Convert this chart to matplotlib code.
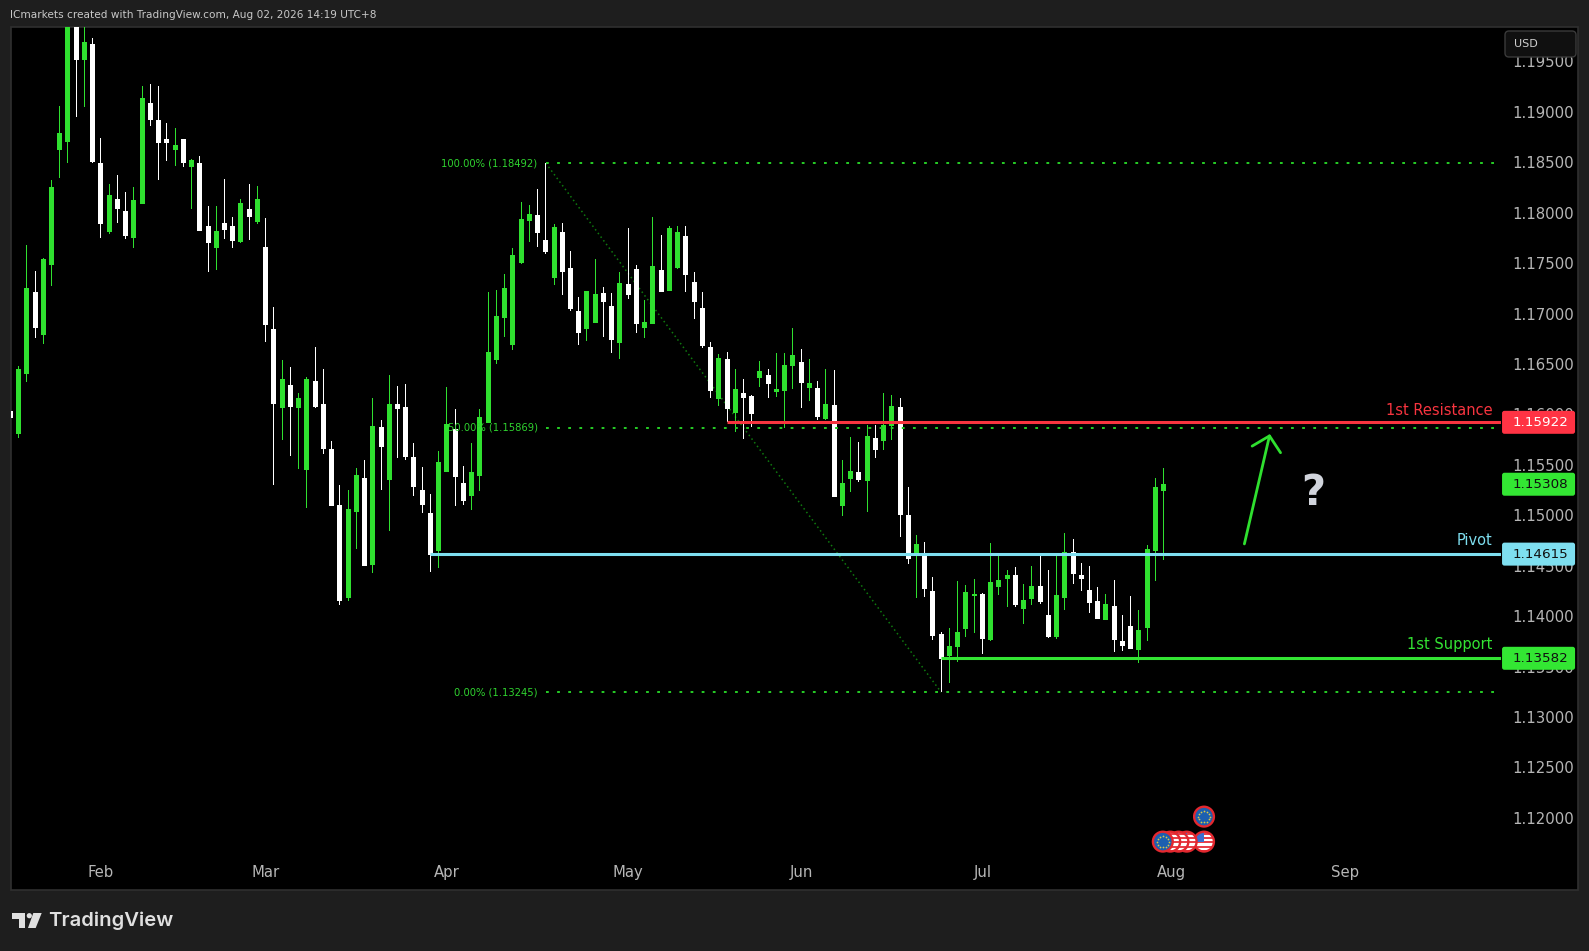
import numpy as np
import matplotlib
matplotlib.use("Agg")
import matplotlib.pyplot as plt
from matplotlib.patches import Circle, FancyBboxPatch, Polygon, Rectangle
from matplotlib.transforms import Affine2D

W, H = 1589, 951

opens = [
    1.16035, 1.15806, 1.16401, 1.17215, 1.16788, 1.17482, 1.18623, 1.18702, 1.19950, 1.19515,
    1.19674, 1.18494, 1.17809, 1.18137, 1.18018, 1.17750, 1.18087, 1.19089, 1.18920, 1.18732,
    1.18623, 1.18732, 1.18454, 1.18494, 1.17869, 1.17651, 1.17899, 1.17869, 1.17710, 1.18038,
    1.17909, 1.17661, 1.16848, 1.16064, 1.16292, 1.16064, 1.15449, 1.16332, 1.16104, 1.15658,
    1.15102, 1.14180, 1.15033, 1.15370, 1.14507, 1.15876, 1.15350, 1.16104, 1.16074, 1.15578,
    1.15251, 1.15023, 1.14646, 1.15430, 1.15856, 1.15321, 1.15192, 1.15390, 1.15916, 1.16540,
    1.16957, 1.16689, 1.17502, 1.17919, 1.17978, 1.17730, 1.17353, 1.17809, 1.17453, 1.17026,
    1.16848, 1.16907, 1.17205, 1.17076, 1.16709, 1.17294, 1.17443, 1.16858, 1.16897, 1.17433,
    1.17224, 1.17453, 1.17770, 1.17314, 1.17056, 1.16669, 1.16154, 1.16550, 1.16015, 1.16213,
    1.16183, 1.16362, 1.16392, 1.16223, 1.16233, 1.16481, 1.16520, 1.16263, 1.16263, 1.15955,
    1.16094, 1.15093, 1.15360, 1.15430, 1.15340, 1.15767, 1.15737, 1.15886, 1.16074, 1.15003,
    1.14617, 1.14617, 1.14250, 1.13823, 1.13605, 1.13694, 1.13873, 1.14200, 1.14220, 1.13764,
    1.14289, 1.14369, 1.14408, 1.14071, 1.14170, 1.14299, 1.14012, 1.13794, 1.14180, 1.14636,
    1.14408, 1.14260, 1.14150, 1.13962, 1.14101, 1.13754, 1.13903, 1.13665, 1.13883, 1.14646,
    1.15241,
]
highs = [
    1.16273, 1.16481, 1.17681, 1.17423, 1.17552, 1.18325, 1.19059, 1.20100, 1.20150, 1.19900,
    1.19733, 1.18742, 1.18285, 1.18375, 1.18206, 1.18256, 1.19257, 1.19277, 1.19257, 1.18890,
    1.18841, 1.18732, 1.18533, 1.18563, 1.18067, 1.18067, 1.18335, 1.17958, 1.18137, 1.18285,
    1.18266, 1.17948, 1.17066, 1.16540, 1.16471, 1.16213, 1.16372, 1.16669, 1.16451, 1.15737,
    1.15301, 1.15251, 1.15469, 1.15549, 1.16163, 1.15945, 1.16392, 1.16282, 1.16302, 1.15717,
    1.15479, 1.15211, 1.15638, 1.16273, 1.16054, 1.15489, 1.15717, 1.16054, 1.17215, 1.17234,
    1.17393, 1.17651, 1.18107, 1.18077, 1.18236, 1.18492, 1.17889, 1.17899, 1.17621, 1.17165,
    1.17224, 1.17542, 1.17264, 1.17205, 1.17413, 1.17849, 1.17482, 1.17135, 1.17958, 1.17780,
    1.17869, 1.17869, 1.17869, 1.17413, 1.17215, 1.16719, 1.16600, 1.16620, 1.16451, 1.16352,
    1.16193, 1.16530, 1.16451, 1.16610, 1.16610, 1.16858, 1.16649, 1.16550, 1.16332, 1.16451,
    1.16441, 1.15549, 1.15777, 1.15727, 1.15896, 1.15896, 1.16213, 1.16193, 1.16163, 1.15281,
    1.14805, 1.14736, 1.14388, 1.13843, 1.13883, 1.14349, 1.14309, 1.14369, 1.14230, 1.14726,
    1.14626, 1.14458, 1.14488, 1.14319, 1.14498, 1.14607, 1.14458, 1.14626, 1.14825, 1.14765,
    1.14527, 1.14498, 1.14289, 1.14220, 1.14359, 1.14012, 1.14200, 1.14061, 1.14706, 1.15370,
    1.15469,
]
lows = [
    1.15846, 1.15767, 1.16322, 1.16758, 1.16699, 1.17274, 1.18345, 1.18494, 1.18950, 1.19049,
    1.18494, 1.17750, 1.17790, 1.17899, 1.17740, 1.17651, 1.18087, 1.18861, 1.18325, 1.18514,
    1.18464, 1.18454, 1.18038, 1.17819, 1.17413, 1.17433, 1.17740, 1.17651, 1.17700, 1.17730,
    1.17889, 1.16719, 1.15301, 1.15747, 1.15588, 1.15459, 1.15073, 1.16064, 1.15608, 1.15093,
    1.14111, 1.14150, 1.14666, 1.14498, 1.14428, 1.15251, 1.14845, 1.15568, 1.15549, 1.15192,
    1.15023, 1.14438, 1.14478, 1.15430, 1.15093, 1.15102, 1.15053, 1.15241, 1.15916, 1.16501,
    1.16768, 1.16639, 1.17492, 1.17710, 1.17661, 1.17591, 1.17284, 1.17185, 1.17026, 1.16689,
    1.16729, 1.16907, 1.16768, 1.16610, 1.16550, 1.17145, 1.16808, 1.16758, 1.16897, 1.17215,
    1.17224, 1.17443, 1.17215, 1.16947, 1.16659, 1.16163, 1.16084, 1.15925, 1.15826, 1.15757,
    1.15876, 1.16273, 1.16163, 1.16173, 1.15866, 1.16253, 1.16064, 1.16134, 1.15945, 1.15945,
    1.15182, 1.14993, 1.15231, 1.15330, 1.15033, 1.15568, 1.15648, 1.15747, 1.14785, 1.14517,
    1.14180, 1.14190, 1.13764, 1.13245, 1.13337, 1.13546, 1.13794, 1.13833, 1.13625, 1.13754,
    1.14210, 1.14091, 1.14091, 1.13922, 1.14111, 1.14121, 1.13784, 1.13774, 1.14061, 1.14319,
    1.14250, 1.14031, 1.13972, 1.13962, 1.13645, 1.13655, 1.13675, 1.13536, 1.13754, 1.14349,
    1.14557,
]
closes = [
    1.15965, 1.16451, 1.17254, 1.16858, 1.17542, 1.18256, 1.18791, 1.20000, 1.19515, 1.19694,
    1.18504, 1.17889, 1.18176, 1.18038, 1.17770, 1.18127, 1.19138, 1.18920, 1.18692, 1.18692,
    1.18672, 1.18494, 1.18523, 1.17819, 1.17700, 1.17819, 1.17829, 1.17720, 1.18097, 1.17958,
    1.18137, 1.16887, 1.16104, 1.16352, 1.16074, 1.16163, 1.16352, 1.16074, 1.15658, 1.15093,
    1.14150, 1.15063, 1.15400, 1.14498, 1.15886, 1.15678, 1.16104, 1.16054, 1.15578, 1.15281,
    1.15102, 1.14607, 1.15529, 1.15906, 1.15380, 1.15142, 1.15430, 1.15975, 1.16620, 1.16977,
    1.17254, 1.17581, 1.17938, 1.17988, 1.17800, 1.17611, 1.17859, 1.17413, 1.17046, 1.16808,
    1.17224, 1.17195, 1.17115, 1.16739, 1.17304, 1.17185, 1.16897, 1.16917, 1.17472, 1.17215,
    1.17849, 1.17809, 1.17383, 1.17115, 1.16679, 1.16233, 1.16560, 1.16054, 1.16253, 1.16163,
    1.16005, 1.16431, 1.16302, 1.16253, 1.16491, 1.16590, 1.16312, 1.16312, 1.15975, 1.16104,
    1.15182, 1.15321, 1.15440, 1.15350, 1.15787, 1.15648, 1.15896, 1.16084, 1.15003, 1.14567,
    1.14716, 1.14269, 1.13803, 1.13575, 1.13704, 1.13843, 1.14240, 1.14220, 1.13774, 1.14339,
    1.14359, 1.14408, 1.14111, 1.14160, 1.14299, 1.14141, 1.13794, 1.14210, 1.14636, 1.14418,
    1.14369, 1.14131, 1.13972, 1.14121, 1.13764, 1.13704, 1.13675, 1.13863, 1.14666, 1.15281,
    1.15308,
]

y_ticks = [1.12, 1.125, 1.13, 1.135, 1.14, 1.145, 1.15, 1.155, 1.16, 1.165,
           1.17, 1.175, 1.18, 1.185, 1.19, 1.195]
month_bars = [11, 31, 53, 75, 96, 118, 141, 162]
month_names = ["Feb", "Mar", "Apr", "May", "Jun", "Jul", "Aug", "Sep"]

fib_levels = [1.18492, 1.15869, 1.13245]
fib_names = ["100.00% (1.18492)", "50.00% (1.15869)", "0.00% (1.13245)"]
fib_start_bar = 65
fib_end_bar = 113

resistance, pivot, support, last_price = 1.15922, 1.14615, 1.13582, 1.15308
resistance_bar, pivot_bar, support_bar = 87, 51, 113

GREEN = "#2fe02f"
RED = "#f7343f"
BLUE = "#7edff0"


def px(x, y):
    # pixel position measured from the top left, in figure fractions
    return x / W, 1 - y / H


fig = plt.figure(figsize=(W / 100, H / 100), dpi=100, facecolor="#1e1e1e")

# black chart panel with thin border
x0, y0 = px(11, 890)
x1, y1 = px(1578, 27)
fig.add_artist(Rectangle((x0, y0), x1 - x0, y1 - y0, transform=fig.transFigure,
                         facecolor="black", edgecolor="#303030", linewidth=1.2, zorder=-5))

left, bottom = px(11, 850)
right, top = px(1501, 27)
ax = fig.add_axes([left, bottom, right - left, top - bottom])
ax.patch.set_visible(False)
ax.set_xlim(0.085, 180.95)
ax.set_ylim(1.11681, 1.19842)
for s in ax.spines.values():
    s.set_visible(False)

ax.yaxis.tick_right()
ax.set_yticks(y_ticks)
ax.set_yticklabels([f"{t:.5f}" for t in y_ticks], color="#b6b6b6", fontsize=10.7)
ax.tick_params(axis="y", length=0, pad=8)
ax.set_xticks(month_bars)
ax.set_xticklabels(month_names, color="#b6b6b6", fontsize=10.7)
ax.tick_params(axis="x", length=0, pad=11)

# candles, wick 1px and body 5px wide so both snap to the same pixels
bar_px = (right - left) * W / (ax.get_xlim()[1] - ax.get_xlim()[0])
bars = np.arange(len(opens))
o, h, l, c = map(np.array, (opens, highs, lows, closes))
colors = [GREEN if b >= a else "white" for a, b in zip(o, c)]
ax.bar(bars, h - l, bottom=l, width=1 / bar_px, color=colors, linewidth=0,
       antialiased=False, zorder=3)
ax.bar(bars, np.abs(c - o), bottom=np.minimum(o, c), width=5 / bar_px, color=colors,
       linewidth=0, antialiased=False, zorder=3)

# fib levels
dots = (0, (1.39, 4.17))
xmax = ax.get_xlim()[1]
for level, name in zip(fib_levels, fib_names):
    ax.plot([fib_start_bar, xmax], [level, level], color="#25c825", lw=1.44, linestyle=dots, zorder=4)
    ax.text(fib_start_bar - 1, level, name, color="#2fd22f", fontsize=7.2,
            ha="right", va="center", zorder=5)
ax.plot([fib_start_bar, fib_end_bar], [fib_levels[0], fib_levels[2]], color="#0f7a0f",
        lw=1.1, linestyle=(0, (1, 2)), zorder=2)

# support / resistance lines
ax.plot([resistance_bar, xmax], [resistance] * 2, color=RED, lw=2.2, solid_capstyle="butt", zorder=4)
ax.plot([pivot_bar, xmax], [pivot] * 2, color=BLUE, lw=2.2, solid_capstyle="butt", zorder=4)
ax.plot([support_bar, xmax], [support] * 2, color="#33e433", lw=2.2, solid_capstyle="butt", zorder=4)

for price, name, col, dy in [(resistance, "1st Resistance", RED, 0.00122),
                             (pivot, "Pivot", BLUE, 0.00135),
                             (support, "1st Support", "#33e433", 0.00132)]:
    ax.text(0.9945, price + dy, name, color=col, fontsize=10.5,
            transform=ax.get_yaxis_transform(), ha="right", va="center", zorder=5)

# price tags on the scale
tag_half = 0.00114
for price, face, txt in [(resistance, "#ff3344", "white"), (last_price, "#33e633", "#101010"),
                         (pivot, BLUE, "#101010"), (support, "#33e633", "#101010")]:
    ax.add_patch(FancyBboxPatch((1.0007, price - tag_half), 0.049, 2 * tag_half,
                                boxstyle="round,pad=0,rounding_size=0.0016", mutation_aspect=0.148,
                                transform=ax.get_yaxis_transform(), facecolor=face, edgecolor="none",
                                clip_on=False, zorder=6))
    ax.text(1.0262, price, f"{price:.5f}", color=txt, fontsize=9.7,
            transform=ax.get_yaxis_transform(), ha="center", va="center", zorder=7, clip_on=False)

# arrow and question mark
ax.annotate("", xy=(152.9, 1.15806), xytext=(149.8, 1.14716), zorder=5,
            arrowprops=dict(arrowstyle="->,head_length=10,head_width=10.5", mutation_scale=1,
                            color=GREEN, lw=2, shrinkA=0, shrinkB=0))
ax.text(158.1, 1.15225, "?", color="#d1d4dc", fontsize=30, fontweight="bold",
        ha="center", va="center", zorder=5)


def add_icon(bar, price, kind, order):
    cx, cy = ax.transData.transform((bar, price))
    r = 11.5
    icon = fig.add_axes([(cx - r) / W, (cy - r) / H, 2 * r / W, 2 * r / H], zorder=order)
    icon.set_xlim(-1, 1)
    icon.set_ylim(-1, 1)
    icon.axis("off")
    icon.patch.set_alpha(0)
    disc = Circle((0, 0), 0.86, transform=icon.transData)
    if kind == "eu":
        icon.add_patch(Circle((0, 0), 0.86, facecolor="#1c5fb0", edgecolor="none"))
        ang = np.linspace(0, 2 * np.pi, 12, endpoint=False)
        icon.scatter(0.5 * np.cos(ang), 0.5 * np.sin(ang), s=1.6, color="#d8c84a", linewidths=0)
    else:
        icon.add_patch(Circle((0, 0), 0.86, facecolor="white", edgecolor="none"))
        for k in range(5):
            st = icon.add_patch(Rectangle((-1, -0.88 + 0.36 * k), 2, 0.18, facecolor="#e8404a", edgecolor="none"))
            st.set_clip_path(disc)
        ca = icon.add_patch(Rectangle((-1, 0), 1, 1, facecolor="#3a6fd0", edgecolor="none"))
        ca.set_clip_path(disc)
    icon.add_patch(Circle((0, 0), 0.86, facecolor="none", edgecolor="#e3282f", linewidth=1.7))


add_icon(144.9, 1.12012, "eu", 6)
add_icon(144.9, 1.11764, "us", 6)
add_icon(142.8, 1.11764, "us", 7)
add_icon(141.8, 1.11764, "us", 8)
add_icon(140.8, 1.11764, "us", 9)
add_icon(139.9, 1.11764, "eu", 10)

# USD button on top of the scale
fig.add_artist(FancyBboxPatch((1505, H - 57), 71, 26, boxstyle="round,pad=0,rounding_size=4",
                              transform=Affine2D().scale(1 / W, 1 / H) + fig.transFigure,
                              facecolor="#101010", edgecolor="#3a3a3a", linewidth=1, zorder=20))
fig.text(*px(1514, 44), "USD", color="#d0d0d0", fontsize=8, va="center", zorder=21)

# header and footer
fig.text(*px(10, 15), "ICmarkets created with TradingView.com, Aug 02, 2026 14:19 UTC+8",
         color="#c8c8c8", fontsize=7.6, va="center")

logo = Affine2D().scale(1 / W, -1 / H).translate(0, 1) + fig.transFigure
fig.add_artist(Polygon([(12, 913), (25, 913), (25, 928), (18.5, 928), (18.5, 919), (12, 919)],
                       transform=logo, facecolor="#e0e0e0", edgecolor="none"))
fig.add_artist(Circle((29.3, 915.7), 2.6, transform=logo, facecolor="#e0e0e0", edgecolor="none"))
fig.add_artist(Polygon([(33.3, 913), (41.7, 913), (35.7, 928), (28, 928)],
                       transform=logo, facecolor="#e0e0e0", edgecolor="none"))
fig.text(*px(48.5, 921), "TradingView", color="#e0e0e0", fontsize=14.6, family="Inter",
         fontweight="semibold", va="center")

fig.savefig("out.png", facecolor=fig.get_facecolor())
